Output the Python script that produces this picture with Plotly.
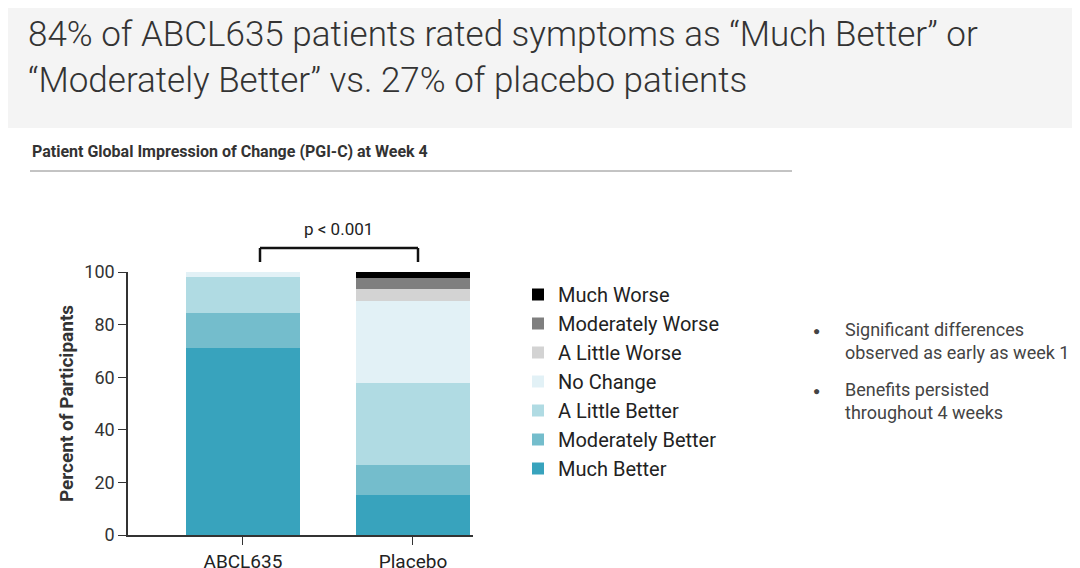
import plotly.graph_objects as go

groups = ['ABCL635', 'Placebo']
categories = ['Much Better', 'Moderately Better', 'A Little Better', 'No Change',
              'A Little Worse', 'Moderately Worse', 'Much Worse']
values = {
    'Much Better': [71.0, 15.3],
    'Moderately Better': [13.5, 11.3],
    'A Little Better': [13.5, 31.3],
    'No Change': [2.0, 31.2],
    'A Little Worse': [0, 4.4],
    'Moderately Worse': [0, 4.2],
    'Much Worse': [0, 2.3],
}
colors = ['#38a3bd', '#74bdcc', '#b0dbe3', '#e2f1f6', '#d3d3d3', '#7f7f7f', '#000000']

W, H = 1080, 568
L, R, T, B = 120, 615, 264, 41
PW, PH = W - L - R, H - T - B


def px(x):
    return (x - L) / PW


def py(y):
    return (H - B - y) / PH


fig = go.Figure()
for cat, col in zip(categories, colors):
    fig.add_trace(go.Bar(x=groups, y=values[cat], name=cat, marker_color=col,
                         marker_line_width=0, width=0.67, legendgroup=cat))

font = 'Roboto'
fig.update_layout(
    barmode='stack', width=W, height=H, plot_bgcolor='white', paper_bgcolor='white',
    margin=dict(l=L, r=R, t=T, b=B, autoexpand=False),
    font=dict(family=font, color='#222'),
    legend=dict(x=px(510), y=py(267), yanchor='top', xanchor='left', traceorder='reversed',
                tracegroupgap=6, font=dict(size=20, color='#222'), itemwidth=30),
    xaxis=dict(range=[-0.676, 1.353], showline=True, linecolor='#333', linewidth=1.5,
               ticks='outside', ticklen=8, tickcolor='#333',
               tickfont=dict(size=19, color='#222')),
    yaxis=dict(range=[0, 100], tickvals=[0, 20, 40, 60, 80, 100], showline=True,
               linecolor='#333', linewidth=1.5, ticks='outside', ticklen=8,
               tickcolor='#333', showgrid=False, tickfont=dict(size=18, color='#333'),
               title=dict(text='<b>Percent of Participants</b>', font=dict(size=19, color='#333'),
                          standoff=6)),
    shapes=[
        dict(type='rect', xref='paper', yref='paper', x0=px(0), x1=px(W),
             y0=py(120), y1=py(0), fillcolor='#f4f4f4', line_width=0, layer='below'),
        dict(type='line', xref='paper', yref='paper', x0=px(22), x1=px(784),
             y0=py(163), y1=py(163), line=dict(color='#888', width=1)),
        dict(type='line', xref='paper', yref='paper', x0=px(252), x1=px(252),
             y0=py(254), y1=py(240), line=dict(color='#111', width=2.5)),
        dict(type='line', xref='paper', yref='paper', x0=px(252), x1=px(410),
             y0=py(240), y1=py(240), line=dict(color='#111', width=2.5)),
        dict(type='line', xref='paper', yref='paper', x0=px(410), x1=px(410),
             y0=py(254), y1=py(240), line=dict(color='#111', width=2.5)),
    ],
    annotations=[
        dict(text='84% of ABCL635 patients rated symptoms as “Much Better” or<br>'
                  '“Moderately Better” vs. 27% of placebo patients',
             xref='paper', yref='paper', x=px(18), y=py(4),
             xanchor='left', yanchor='top', align='left', showarrow=False,
             font=dict(size=35, color='#333', family='Roboto Light, Roboto', weight=300)),
        dict(text='<b>Patient Global Impression of Change (PGI-C) at Week 4</b>',
             xref='paper', yref='paper', x=px(22), y=py(143),
             xanchor='left', yanchor='middle', showarrow=False,
             font=dict(size=16, color='#333')),
        dict(text='p < 0.001', xref='paper', yref='paper', x=px(330), y=py(221),
             xanchor='center', yanchor='middle', showarrow=False, font=dict(size=17)),
        dict(text='●', xref='paper', yref='paper', x=px(808), y=py(323),
             xanchor='center', yanchor='middle', showarrow=False, font=dict(size=12, color='#444')),
        dict(text='Significant differences<br>observed as early as week 1', xref='paper',
             yref='paper', x=px(835), y=py(333), xanchor='left',
             yanchor='middle', align='left', showarrow=False, font=dict(size=18, color='#444')),
        dict(text='●', xref='paper', yref='paper', x=px(808), y=py(383),
             xanchor='center', yanchor='middle', showarrow=False, font=dict(size=12, color='#444')),
        dict(text='Benefits persisted<br>throughout 4 weeks', xref='paper',
             yref='paper', x=px(835), y=py(393), xanchor='left',
             yanchor='middle', align='left', showarrow=False, font=dict(size=18, color='#444')),
    ],
)

fig.write_html('out.html')
